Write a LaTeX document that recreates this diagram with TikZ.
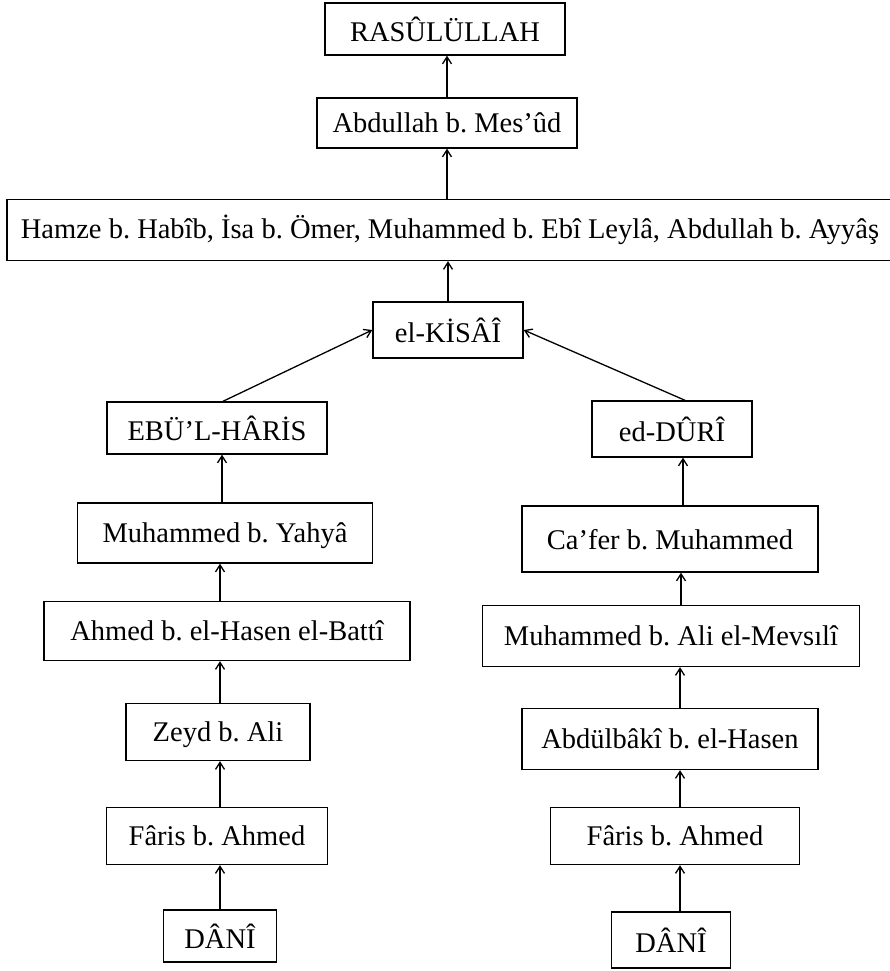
\documentclass[tikz,border=0pt]{standalone}
\usepackage{fontspec}
\setmainfont{Liberation Serif}
\usetikzlibrary{arrows.meta}
\frenchspacing
\begin{document}
\begin{tikzpicture}[x=1pt,y=-1pt,
  nbox/.style={draw, line width=1.4pt, inner sep=0pt, rectangle,
    font=\fontsize{28.5}{32}\selectfont, text depth=0pt},
  arr/.style={line width=1.3pt, -{Straight Barb[length=7pt,width=9pt,line width=1.3pt]}}]
\useasboundingbox (0,0) rectangle (890,971);
\node[nbox, minimum width=240, minimum height=52] (rasul) at (445,29) {RASÛLÜLLAH};
\node[nbox, minimum width=260, minimum height=50] (abd) at (447,123) {Abdullah b. Mes’ûd};
\node[nbox, minimum width=890, minimum height=61] (hamze) at (452,230) {};
\node[font=\fontsize{28.5}{32}\selectfont] (hamzet) at (450,230) {Hamze b. Habîb, İsa b. Ömer, Muhammed b. Ebî Leylâ, Abdullah b. Ayyâş};
\node[nbox, minimum width=150, minimum height=56] (kisai) at (448,330) {el-KİSÂÎ};
\node[nbox, minimum width=220, minimum height=52] (ebu) at (217,428) {EBÜ’L-HÂRİS};
\node[nbox, minimum width=160, minimum height=56] (duri) at (672,429) {ed-DÛRÎ};
\node[nbox, minimum width=295, minimum height=60] (myahya) at (225,533) {Muhammed b. Yahyâ};
\node[nbox, minimum width=296, minimum height=66] (cafer) at (670,539) {Ca’fer b. Muhammed};
\node[nbox, minimum width=366, minimum height=59] (ahmed) at (227,631) {Ahmed b. el-Hasen el-Battî};
\node[nbox, minimum width=377, minimum height=61] (mevsili) at (671,636) {Muhammed b. Ali el-Mevsılî};
\node[nbox, minimum width=184, minimum height=57] (zeyd) at (218,732) {Zeyd b. Ali};
\node[nbox, minimum width=296, minimum height=61] (abdulbaki) at (670,739) {Abdülbâkî b. el-Hasen};
\node[nbox, minimum width=221, minimum height=57] (farisl) at (217,836) {Fâris b. Ahmed};
\node[nbox, minimum width=249, minimum height=57] (farisr) at (675,836) {Fâris b. Ahmed};
\node[nbox, minimum width=113, minimum height=52] (danil) at (220,936) {DÂNÎ};
\node[nbox, minimum width=119, minimum height=56] (danir) at (671,940) {DÂNÎ};
% top column
\draw[arr] (abd.north) -- (abd.north |- rasul.south);
\draw[arr] (hamze.north -| abd.north) -- (abd.south);
\draw[arr] (kisai.north) -- (kisai.north |- hamze.south);
% branches
\draw[arr] ([xshift=6pt]ebu.north) -- (kisai.west);
\draw[arr] ([xshift=13pt]duri.north) -- (kisai.east);
% left column
\draw[arr] ([xshift=-3pt]myahya.north) -- ([xshift=-3pt]myahya.north |- ebu.south);
\draw[arr] ([xshift=-7pt]ahmed.north) -- ([xshift=-7pt]ahmed.north |- myahya.south);
\draw[arr] ([xshift=2pt]zeyd.north) -- ([xshift=2pt]zeyd.north |- ahmed.south);
\draw[arr] ([xshift=3pt]farisl.north) -- ([xshift=3pt]farisl.north |- zeyd.south);
\draw[arr] (danil.north) -- (danil.north |- farisl.south);
% right column
\draw[arr] ([xshift=13pt]cafer.north) -- ([xshift=13pt]cafer.north |- duri.south);
\draw[arr] ([xshift=10pt]mevsili.north) -- ([xshift=10pt]mevsili.north |- cafer.south);
\draw[arr] ([xshift=10pt]abdulbaki.north) -- ([xshift=10pt]abdulbaki.north |- mevsili.south);
\draw[arr] ([xshift=5pt]farisr.north) -- ([xshift=5pt]farisr.north |- abdulbaki.south);
\draw[arr] ([xshift=9pt]danir.north) -- ([xshift=9pt]danir.north |- farisr.south);
\end{tikzpicture}
\end{document}
